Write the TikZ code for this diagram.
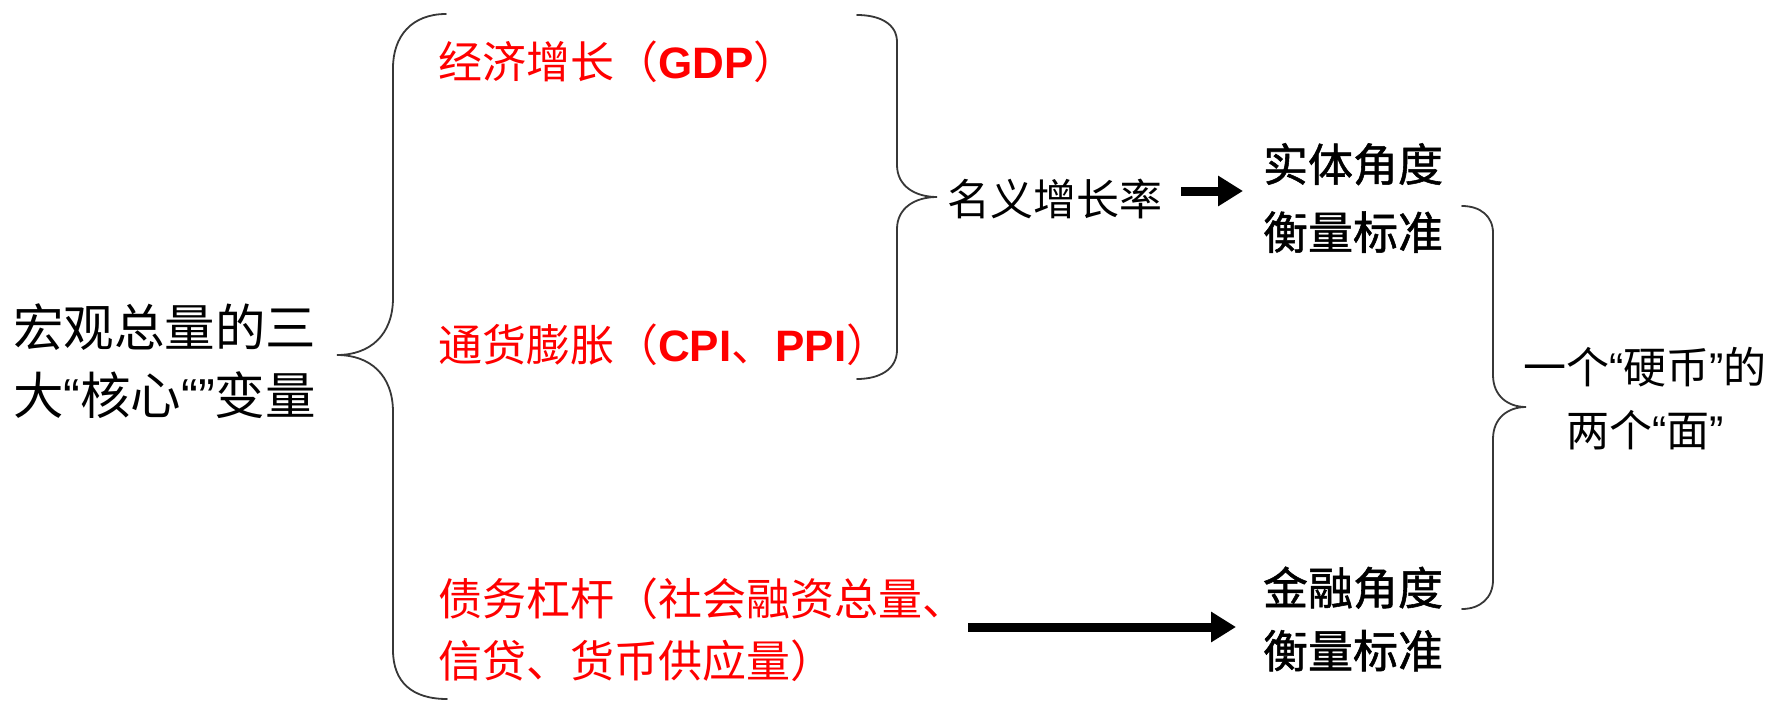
\documentclass[tikz,border=0pt]{standalone}
\usepackage{fontspec}
\usetikzlibrary{arrows.meta}
\setmainfont{Noto Sans CJK SC}
\newfontfamily\latin{Liberation Sans}
\newfontfamily\cjkbold[FakeBold=1.2]{Noto Sans CJK SC}
\newcommand\oq{{\latin “}}
\newcommand\cq{{\latin ”}}
\newcommand\lt[1]{{\latin\bfseries #1}}
\definecolor{bracegray}{RGB}{55,55,55}
\definecolor{redtext}{RGB}{255,0,0}
\begin{document}
\begin{tikzpicture}[x=1pt,y=-1pt,
  txt/.style={inner sep=0pt, outer sep=0pt, anchor=west},
  redtxt/.style={text=redtext},
  brace/.style={draw=bracegray, line width=1.8pt, line cap=round},
  thickarrow/.style={draw=black, line width=9pt, -{Triangle[length=25pt,width=29pt]}}]
\useasboundingbox (0,0) rectangle (1772,701);

% left text
\node[txt, font=\fontsize{50.5}{68}\selectfont, align=left] (L) at (13,361)
  {宏观总量的三\\大\oq 核心\oq\cq 变量};

% red items
\node[txt, redtxt, font=\fontsize{44}{62}\selectfont] (A) at (438,62) {经济增长（\lt{GDP}）};
\node[txt, redtxt, font=\fontsize{44}{62}\selectfont] (B) at (438,345) {通货膨胀（\lt{CPI}、\lt{PPI}）};
\node[txt, redtxt, font=\fontsize{44}{62}\selectfont, align=left] (C) at (438,630)
  {债务杠杆（社会融资总量、\\信贷、货币供应量）};

% middle
\node[txt, font=\fontsize{43}{62}\selectfont] (N) at (947,199) {名义增长率};
\node[txt, font=\fontsize{45}{68}\selectfont\cjkbold, align=left] (S) at (1263,198) {实体角度\\衡量标准};
\node[txt, font=\fontsize{45}{63}\selectfont\cjkbold, align=left] (F) at (1263,619) {金融角度\\衡量标准};

% right text
\node[inner sep=0pt, font=\fontsize{43}{63}\selectfont, align=center] (T) at (1645,399)
  {一个\oq 硬币\cq 的\\两个\oq 面\cq};

% arrows
\draw[thickarrow, shorten <=19pt, shorten >=20pt] ([yshift=8pt]N.east) -- ([yshift=8pt]N.east -| S.west);
\draw[thickarrow, shorten <=2pt, shorten >=27pt] ([yshift=3pt]C.east) -- ([yshift=3pt]C.east -| F.west);

% left brace
\draw[brace] (446,14) .. controls (412,14) and (393,36) .. (393,68) -- (393,298)
  .. controls (393,335) and (370,355) .. (337,355)
  .. controls (370,355) and (393,375) .. (393,412) -- (393,650)
  .. controls (393,682) and (412,699) .. (447,699);

% inner brace (upper items)
\draw[brace] (857,15) .. controls (880,15) and (897,24) .. (897,42) -- (897,165)
  .. controls (897,186) and (915,197) .. (937,197)
  .. controls (915,197) and (897,208) .. (897,229) -- (897,350)
  .. controls (897,369) and (880,379) .. (857,379);

% right brace
\draw[brace] (1462,206) .. controls (1480,206) and (1493,216) .. (1493,233) -- (1493,375)
  .. controls (1493,396) and (1508,407) .. (1526,407)
  .. controls (1508,407) and (1493,418) .. (1493,439) -- (1493,580)
  .. controls (1493,598) and (1480,609) .. (1462,609);
\end{tikzpicture}
\end{document}
